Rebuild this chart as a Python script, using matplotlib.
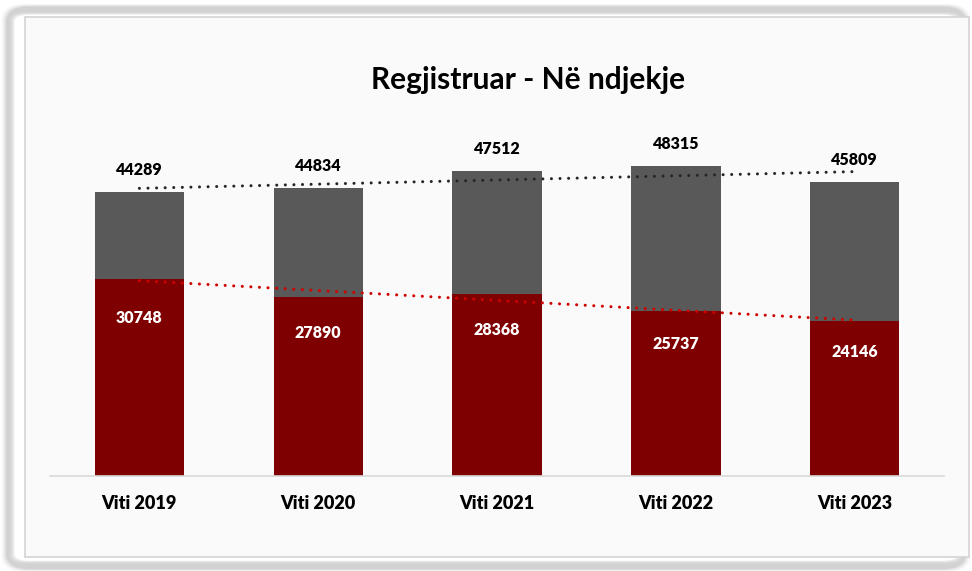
import matplotlib.pyplot as plt
import numpy as np
from matplotlib.patches import FancyBboxPatch, Rectangle

# data
years = ['Viti 2019', 'Viti 2020', 'Viti 2021', 'Viti 2022', 'Viti 2023']
totals = [44289, 44834, 47512, 48315, 45809]
in_progress = [30748, 27890, 28368, 25737, 24146]

plt.rcParams['font.family'] = ['Lato', 'DejaVu Sans']

fig = plt.figure(figsize = (9.72, 5.71), dpi = 100)
fig.patch.set_facecolor('white')

# soft shadow frame round the panel
for i, a in enumerate([0.05, 0.08, 0.11, 0.15]):
    pad = 0.012 - i * 0.003
    fig.patches.append(FancyBboxPatch((0.012 - pad * 0.5, 0.012 - pad * 0.5), 0.976 + pad, 0.968 + pad,
        boxstyle = 'round,pad=0,rounding_size=0.02', transform = fig.transFigure,
        facecolor = 'none', edgecolor = (0.5, 0.5, 0.5, a), linewidth = 6, zorder = 0))
fig.patches.append(Rectangle((25 / 972, 1 - 557 / 571), 944 / 972, 540 / 571,
    transform = fig.transFigure, facecolor = '#FAFAFA', edgecolor = '#D4D4D4', linewidth = 1.2, zorder = 1))

ax = fig.add_axes([50 / 972, 95 / 571, 894 / 972, 381 / 571])
ax.set_zorder(5)
ax.set_facecolor('none')

x = np.arange(len(years))
rest = np.array(totals) - np.array(in_progress)

ax.bar(x, in_progress, width = 0.5, color = '#7F0000', zorder = 2)
ax.bar(x, rest, width = 0.5, bottom = in_progress, color = '#595959', zorder = 2)

# linear trend lines
for vals, col in [(totals, '#262626'), (in_progress, '#D00000')]:
    k, b = np.polyfit(x, vals, 1)
    ax.plot(x, k * x + b, color = col, linewidth = 2.2, dashes = (0.01, 2.8),
            dash_capstyle = 'round', zorder = 3)

for xi, t, r in zip(x, totals, in_progress):
    ax.annotate(str(t), (xi, t), xytext = (0, 16), textcoords = 'offset points',
                ha = 'center', va = 'center', fontsize = 11.5, fontweight = 'heavy', color = 'black')
    ax.text(xi, r * 0.8, str(r), ha = 'center', va = 'center', fontsize = 11.5,
            fontweight = 'heavy', color = 'white', zorder = 4)

ax.set_xlim(-0.5, 4.5)
ax.set_ylim(0, 59400)
ax.set_yticks([])
ax.set_xticks(x)
ax.set_xticklabels(years, fontsize = 13, fontweight = 'heavy', color = 'black')
ax.tick_params(axis = 'x', length = 0, pad = 14)
for s in ['top', 'right', 'left']:
    ax.spines[s].set_visible(False)
ax.spines['bottom'].set_color('#D9D9D9')
ax.spines['bottom'].set_linewidth(1.2)

fig.text(528 / 972, 1 - 80 / 571, 'Regjistruar - Në ndjekje', ha = 'center', va = 'center',
         fontsize = 21.5, fontweight = 'bold', color = 'black')

plt.savefig('out.png', dpi = 100, facecolor = fig.get_facecolor())
plt.close()
